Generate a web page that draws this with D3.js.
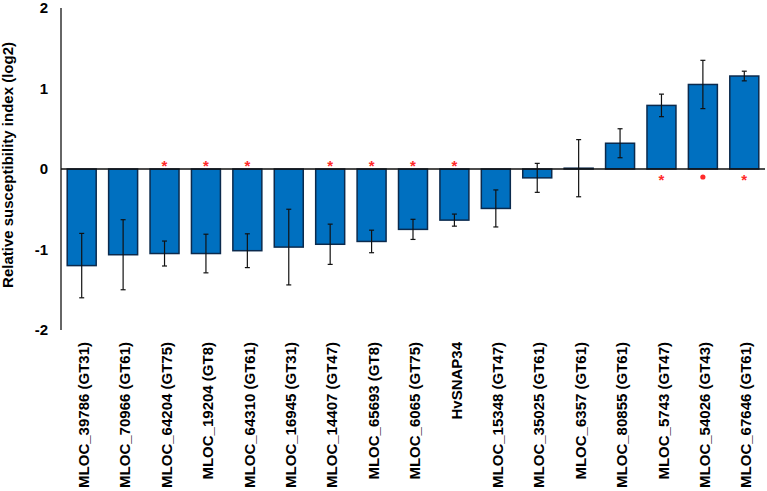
<!DOCTYPE html>
<html>
<head>
<meta charset="utf-8">
<script src="https://cdn.jsdelivr.net/npm/d3@7"></script>
<style>
  body { margin: 0; background: #fff; }
  text { font-family: "Liberation Sans", Arial, sans-serif; font-weight: bold; }
</style>
</head>
<body>
<section></section>
<script>
//Gene names along the x axis
const genes = ["MLOC_39786 (GT31)", "MLOC_70966 (GT61)", "MLOC_64204 (GT75)", "MLOC_19204 (GT8)",
    "MLOC_64310 (GT61)", "MLOC_16945 (GT31)", "MLOC_14407 (GT47)", "MLOC_65693 (GT8)",
    "MLOC_6065 (GT75)", "HvSNAP34", "MLOC_15348 (GT47)", "MLOC_35025 (GT61)",
    "MLOC_6357 (GT61)", "MLOC_80855 (GT61)", "MLOC_5743 (GT47)", "MLOC_54026 (GT43)",
    "MLOC_67646 (GT61)"];

//Mean relative susceptibility index (log2)
const values = [-1.20, -1.065, -1.05, -1.05, -1.015, -0.97, -0.935, -0.90, -0.75, -0.635,
    -0.49, -0.11, 0.01, 0.32, 0.79, 1.05, 1.155];

//Error bar half lengths
const errors = [0.40, 0.435, 0.155, 0.24, 0.21, 0.47, 0.25, 0.14, 0.125, 0.075,
    0.23, 0.18, 0.355, 0.18, 0.14, 0.30, 0.06];

//Significance marks for each bar ("" means none)
const marks = ["", "", "*", "*", "*", "", "*", "*", "*", "*", "", "", "", "", "*", "•", "*"];

//Y axis ticks
const yTicks = [-2, -1, 0, 1, 2];

const width = 767;
const height = 491;

const data = genes.map(function (g, i) {
    return { gene: g, value: values[i], err: errors[i], mark: marks[i] };
});

let svg = d3.select("section")
    .append("svg")
    .attr("width", width)
    .attr("height", height);

//Scales
const x = d3.scaleBand()
    .domain(genes)
    .range([61, 765])
    .paddingInner(0.3)
    .paddingOuter(0.15);

const y = d3.scaleLinear()
    .domain([-2, 2])
    .range([330, 8]);

//Y axis line and labels
svg.append("line")
    .attr("x1", 61).attr("x2", 61)
    .attr("y1", y(2)).attr("y2", y(-2))
    .attr("stroke", "#333")
    .attr("stroke-width", 1.5);

svg.selectAll(".ytick")
    .data(yTicks)
    .enter()
    .append("text")
    .attr("class", "ytick")
    .attr("x", 48)
    .attr("y", d => y(d))
    .attr("dy", "0.35em")
    .attr("text-anchor", "end")
    .attr("font-size", 15)
    .text(d => d);

svg.append("text")
    .attr("transform", "translate(13," + y(0.05) + ") rotate(-90)")
    .attr("text-anchor", "middle")
    .attr("font-size", 15)
    .text("Relative susceptibility index (log2)");

//Bars
svg.selectAll(".bar")
    .data(data)
    .enter()
    .append("rect")
    .attr("class", "bar")
    .attr("x", d => x(d.gene))
    .attr("width", x.bandwidth())
    .attr("y", d => y(Math.max(0, d.value)))
    .attr("height", d => Math.abs(y(d.value) - y(0)))
    .attr("fill", "#0070C0")
    .attr("stroke", "#0b2a4d")
    .attr("stroke-width", 1.5);

//Zero line
svg.append("line")
    .attr("x1", 61).attr("x2", 765)
    .attr("y1", y(0)).attr("y2", y(0))
    .attr("stroke", "#111")
    .attr("stroke-width", 1.5);

//Error bars
const errG = svg.selectAll(".err")
    .data(data)
    .enter()
    .append("g")
    .attr("class", "err")
    .attr("stroke", "#111")
    .attr("stroke-width", 1.2);

errG.append("line")
    .attr("x1", d => x(d.gene) + x.bandwidth() / 2)
    .attr("x2", d => x(d.gene) + x.bandwidth() / 2)
    .attr("y1", d => y(d.value + d.err))
    .attr("y2", d => y(d.value - d.err));

errG.append("line")
    .attr("x1", d => x(d.gene) + x.bandwidth() / 2 - 2.5)
    .attr("x2", d => x(d.gene) + x.bandwidth() / 2 + 2.5)
    .attr("y1", d => y(d.value + d.err))
    .attr("y2", d => y(d.value + d.err));

errG.append("line")
    .attr("x1", d => x(d.gene) + x.bandwidth() / 2 - 2.5)
    .attr("x2", d => x(d.gene) + x.bandwidth() / 2 + 2.5)
    .attr("y1", d => y(d.value - d.err))
    .attr("y2", d => y(d.value - d.err));

//Significance marks, above zero for negative bars and below for positive bars
const marked = data.filter(d => d.mark !== "");

svg.selectAll(".star")
    .data(marked.filter(d => d.mark === "*"))
    .enter()
    .append("text")
    .attr("class", "star")
    .attr("x", d => x(d.gene) + x.bandwidth() / 2)
    .attr("y", d => d.value < 0 ? y(0) + 2 : y(0) + 16)
    .attr("text-anchor", "middle")
    .attr("font-size", 15)
    .attr("font-weight", "normal")
    .attr("fill", "#ff2a2a")
    .text("*");

svg.selectAll(".dot")
    .data(marked.filter(d => d.mark === "•"))
    .enter()
    .append("circle")
    .attr("class", "dot")
    .attr("cx", d => x(d.gene) + x.bandwidth() / 2)
    .attr("cy", y(0) + 8)
    .attr("r", 2.6)
    .attr("fill", "#ff2a2a");

//Rotated category labels
svg.selectAll(".xlab")
    .data(genes)
    .enter()
    .append("text")
    .attr("class", "xlab")
    .attr("transform", d => "translate(" + (x(d) + x.bandwidth() / 2) + ",342) rotate(-90)")
    .attr("dy", "0.48em")
    .attr("text-anchor", "end")
    .attr("font-size", 15)
    .text(d => d);
</script>
</body>
</html>
